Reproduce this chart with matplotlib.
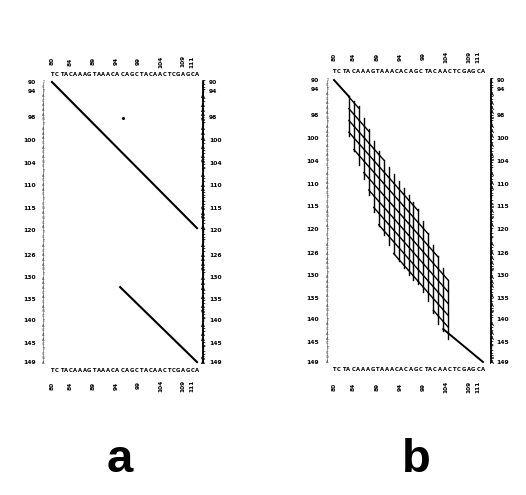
import numpy as np
import matplotlib as mpl
mpl.use("Agg")
import matplotlib.pyplot as plt

# sequences written along the axes
xSeq="TCTACAAAGTAAACACAGCTACAACTCGAGCA"
ySeq=("TCTACAAAGTAAACACAGCTACAACTCGAGCA"*2)[:61]
markerX=[0,3.8,8.6,13.3,17.9,22.6,27.1,29.0]
markerLabels=["80","84","89","94","99","104","109","111"]
yTickPos=[90,92,97.5,102.4,107.3,112.2,117,121.8,127,131.7,136.4,140.9,145.8,150]
yTickLabels=["90","94","98","100","104","110","115","120","126","130","135","140","145","149"]

# panel a: two diagonal runs + stray dot
aLinesX=[[0,30],[14.1,30]]
aLinesY=[[90,121.2],[133.8,149.8]]
aDot=(14.7,97.7)

# panel b: main diagonal pieces
bLinesX=[[0,3],[22,30]]
bLinesY=[[90,93.5],[143,150]]
# lattice columns with their top and bottom ends
latCols=list(range(3,24))
latTop=[93.5,94.5,95.5,98,100.5,103,105,107,108.5,110,111.5,113,114.5,116,117.5,120,122.5,125,127.5,130,132.5]
latBot=[102,105,108,111,114.5,118,121,123,125,127,128.5,130,131.5,132.5,133.5,135,137,139.5,142,143.5,145]
latSlope=1.2
latOffsets=[90,92.5,95,97.5,100,102.5,105,107.5,110,112.5,115,117.5]

fig=plt.figure(figsize=(5.26,4.95),dpi=100)
axA=fig.add_axes([52/526.,1-363/495.,145/526.,281/495.])
axB=fig.add_axes([334/526.,1-362/495.,149/526.,282/495.])

def decorate(ax,topSeqY,topMarkY,botSeqY,botMarkY,leftRule,leftLab,rightRule,rightLab):
  ax.set_xlim(0,30)
  ax.set_ylim(150,90)
  ax.axis('off')
  for i,ch in enumerate(xSeq):
    x=i*30/(len(xSeq)-1)
    ax.text(x,topSeqY,ch,ha='center',va='center',fontsize=3.8,fontweight='bold',family='DejaVu Sans')
    ax.text(x,botSeqY,ch,ha='center',va='center',fontsize=3.8,fontweight='bold',family='DejaVu Sans')
  for x,lab in zip(markerX,markerLabels):
    ax.text(x,topMarkY,lab,ha='center',va='center',rotation=90,fontsize=4.2,fontweight='bold')
    ax.text(x,botMarkY,lab,ha='center',va='center',rotation=90,fontsize=4.2,fontweight='bold')
  for i,ch in enumerate(ySeq):
    y=90+i*60/(len(ySeq)-1)
    ax.text(leftRule,y,ch,ha='center',va='center',fontsize=2.6,color='0.25')
    ax.text(rightRule,y,ch,ha='center',va='center',fontsize=3.6,fontweight='bold')
  ax.plot([leftRule,leftRule],[90,150],color='0.3',lw=0.4,clip_on=False)
  ax.plot([rightRule,rightRule],[90,150],color='black',lw=1.3,clip_on=False)
  for y,lab in zip(yTickPos,yTickLabels):
    ax.text(leftLab,y,lab,ha='right',va='center',fontsize=4.3,fontweight='bold')
    ax.text(rightLab,y,lab,ha='left',va='center',fontsize=4.3,fontweight='bold')

decorate(axA,88.4,85.6,151.6,154.8,-1.9,-3.3,31.3,32.5)
decorate(axB,88.2,85.0,151.5,155.3,-1.4,-3.0,31.7,32.7)

for xs,ys in zip(aLinesX,aLinesY):
  axA.plot(xs,ys,color='black',lw=1.5,clip_on=False)
axA.plot([aDot[0]],[aDot[1]],'o',color='black',ms=1.2)

for xs,ys in zip(bLinesX,bLinesY):
  axB.plot(xs,ys,color='black',lw=1.4,clip_on=False)
for x,t,b in zip(latCols,latTop,latBot):
  axB.plot([x,x],[t,b],color='black',lw=1.0)
for c in latOffsets:
  for j in range(len(latCols)-1):
    x1,x2=latCols[j],latCols[j+1]
    y1,y2=latSlope*x1+c,latSlope*x2+c
    if y1<=latBot[j] and y2>=latTop[j+1] and y1>=latTop[j]-0.5 and y2<=latBot[j+1]+0.5:
      axB.plot([x1,x2],[max(y1,latTop[j]),min(y2,latBot[j+1])],color='black',lw=1.0)

fig.text(120/526.,1-472/495.,'a',ha='center',va='baseline',fontsize=34,fontweight='bold',family='Liberation Sans')
fig.text(416/526.,1-472/495.,'b',ha='center',va='baseline',fontsize=34,fontweight='bold',family='Liberation Sans')

plt.savefig('out.png',dpi=100)
